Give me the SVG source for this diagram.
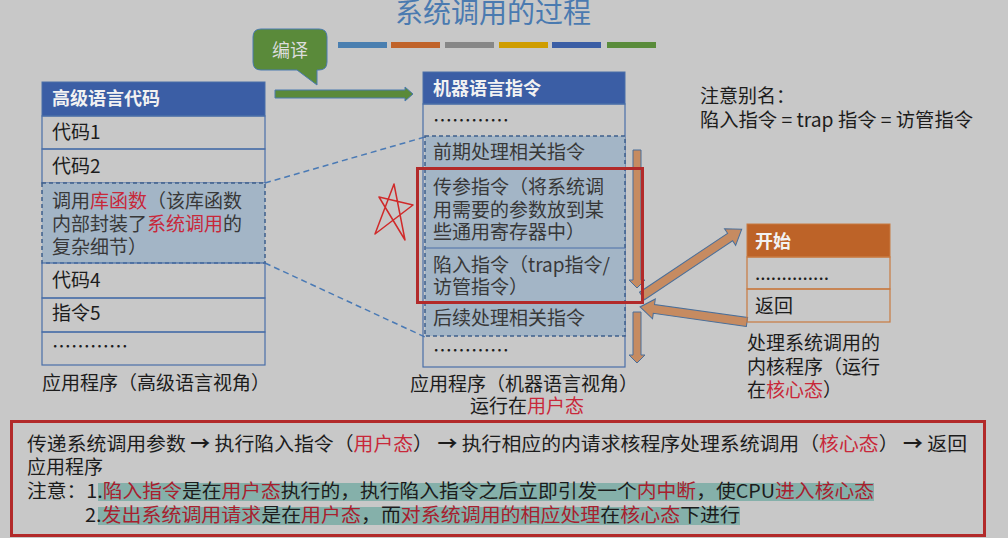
<svg xmlns="http://www.w3.org/2000/svg" width="1008" height="538" viewBox="0 0 1008 538">
<style>
text{font-family:"Noto Sans CJK SC","Noto Sans",sans-serif;fill:#1c1c1c;font-size:19px}
.hd{fill:#f2f2f2;font-weight:bold;font-size:18px}
.r{fill:#c8283a}
.rd{fill:#a8202e}
.g{fill:#383838}
.cell{fill:none;stroke:#4a6fa8;stroke-width:1.2}
.hl{fill:#a3b5c6;stroke:#3e5f8c;stroke-width:1.5;stroke-dasharray:4 3}
.oa{fill:#c68b61;stroke:#4a6f9a;stroke-width:1}
.dash{stroke:#4a7ab5;stroke-width:1.5;stroke-dasharray:6 4;fill:none}
</style>
<rect x="0" y="0" width="1008" height="538" fill="#c8c8c8"/>

<g id="title">
<text x="493" y="23" text-anchor="middle" style="font-size:28px;fill:#4a7ab0">系统调用的过程</text>
<rect x="338" y="42" width="49" height="6" fill="#4a7fb0"/>
<rect x="391" y="42" width="49" height="6" fill="#c0632a"/>
<rect x="445" y="42" width="49" height="6" fill="#878787"/>
<rect x="499" y="42" width="49" height="6" fill="#cf9d00"/>
<rect x="552" y="42" width="49" height="6" fill="#3b5ea5"/>
<rect x="607" y="42" width="49" height="6" fill="#5a8c3b"/>
</g>

<g id="compile">
<path d="M261,29 H319 Q327,29 327,37 V62 Q327,70 319,70 H317 L317,85 L297,70 H261 Q253,70 253,62 V37 Q253,29 261,29 Z" fill="#5a8a3a" stroke="#4a7ab0" stroke-width="1"/>
<text x="290" y="57" text-anchor="middle" style="fill:#dcdcdc;font-size:18px">编译</text>
<path d="M275,90 H405 V87 L413,94 L405,101 V98 H275 Z" fill="#5a8a3a" stroke="#4a7ab0" stroke-width="1"/>
</g>

<g id="connectors">
<line class="dash" x1="265" y1="183" x2="425" y2="137"/>
<line class="dash" x1="265" y1="263" x2="425" y2="337"/>
<path class="oa" d="M633,150 H641 V280 H645 L637,288 L629,280 H633 Z"/>
<path class="oa" d="M633,312 H641 V355 H645 L637,363 L629,355 H633 Z"/>
<g transform="translate(642,296) rotate(-33.8)">
<path class="oa" d="M0,-4.5 H106 V-10 L120,0 L106,10 V4.5 H0 Z"/>
</g>
<g transform="translate(747,322) rotate(-172)">
<path class="oa" d="M0,-4.5 H94 V-10 L108,0 L94,10 V4.5 H0 Z"/>
</g>
</g>

<g id="hll-table">
<rect x="42" y="82" width="223" height="34" fill="#3b5ea5" stroke="#4a6fa8"/>
<text class="hd" x="52" y="105">高级语言代码</text>
<rect class="cell" x="42" y="116" width="223" height="33"/>
<text x="52" y="139">代码1</text>
<rect class="cell" x="42" y="149" width="223" height="34"/>
<text x="52" y="173">代码2</text>
<rect class="hl" x="42" y="183" width="223" height="80"/>
<text class="g" x="52" y="208">调用<tspan class="r">库函数</tspan>（该库函数</text>
<text class="g" x="52" y="231">内部封装了<tspan class="r">系统调用</tspan>的</text>
<text class="g" x="52" y="254">复杂细节）</text>
<rect class="cell" x="42" y="263" width="223" height="35"/>
<text x="52" y="287">代码4</text>
<rect class="cell" x="42" y="298" width="223" height="34"/>
<text x="52" y="320">指令5</text>
<rect class="cell" x="42" y="332" width="223" height="33"/>
<text x="52" y="354">…………</text>
<text x="42" y="390" textLength="228" lengthAdjust="spacingAndGlyphs">应用程序（高级语言视角）</text>
</g>

<g id="machine-table">
<rect x="423" y="72" width="202" height="32" fill="#3b5ea5" stroke="#4a6fa8"/>
<text class="hd" x="433" y="95">机器语言指令</text>
<rect class="cell" x="423" y="104" width="202" height="263"/>
<text x="433" y="128">…………</text>
<rect class="hl" x="425" y="136" width="200" height="200"/>
<line x1="425" y1="168" x2="625" y2="168" stroke="#4a6fa8" stroke-width="1"/>
<line x1="425" y1="248" x2="625" y2="248" stroke="#4a6fa8" stroke-width="1"/>
<line x1="425" y1="303" x2="625" y2="303" stroke="#4a6fa8" stroke-width="1"/>
<text class="g" x="433" y="159">前期处理相关指令</text>
<text class="g" x="433" y="194">传参指令（将系统调</text>
<text class="g" x="433" y="217">用需要的参数放到某</text>
<text class="g" x="433" y="239">些通用寄存器中）</text>
<text class="g" x="433" y="272">陷入指令（trap指令/</text>
<text class="g" x="433" y="294">访管指令）</text>
<text class="g" x="433" y="325">后续处理相关指令</text>
<text x="433" y="358">…………</text>
<rect x="417.5" y="168.5" width="225" height="134" fill="none" stroke="#b22a2a" stroke-width="3"/>
<text x="524" y="391" text-anchor="middle">应用程序（机器语言视角）</text>
<text x="527" y="413" text-anchor="middle">运行在<tspan class="r">用户态</tspan></text>
</g>

<g id="star">
<path d="M375,234 L394,184 L405,240 L379,197 L413,205 Z" fill="none" stroke="#d02a2a" stroke-width="1.5" stroke-linejoin="round"/>
</g>

<g id="alias-note">
<text x="700" y="103">注意别名：</text>
<text x="700" y="127" textLength="273" lengthAdjust="spacingAndGlyphs">陷入指令 = trap 指令 = 访管指令</text>
</g>

<g id="kernel-box">
<rect x="747" y="224" width="143" height="33" fill="#bd6328" stroke="#c87a40"/>
<text class="hd" x="755" y="248">开始</text>
<rect x="747" y="257" width="143" height="32" fill="none" stroke="#c87a40" stroke-width="1.2"/>
<text x="755" y="280">..............</text>
<rect x="747" y="289" width="143" height="33" fill="none" stroke="#c87a40" stroke-width="1.2"/>
<text x="755" y="313">返回</text>
<text x="747" y="350">处理系统调用的</text>
<text x="747" y="374">内核程序（运行</text>
<text x="747" y="397">在<tspan class="r">核心态</tspan>）</text>
</g>

<g id="summary">
<rect x="11.5" y="421.5" width="973" height="114" fill="none" stroke="#b22a2a" stroke-width="3"/>
<rect x="98" y="483" width="776" height="18" fill="#85b0aa"/>
<rect x="98" y="507" width="642" height="18" fill="#85b0aa"/>
<text x="27" y="451" textLength="940" lengthAdjust="spacingAndGlyphs">传递系统调用参数 <tspan font-weight="bold">→</tspan> 执行陷入指令（<tspan class="r">用户态</tspan>） <tspan font-weight="bold">→</tspan> 执行相应的内请求核程序处理系统调用（<tspan class="r">核心态</tspan>） <tspan font-weight="bold">→</tspan> 返回</text>
<text x="27" y="474">应用程序</text>
<text x="27" y="498" textLength="847" lengthAdjust="spacingAndGlyphs">注意：1.<tspan class="rd">陷入指令</tspan>是在<tspan class="rd">用户态</tspan>执行的，执行陷入指令之后立即引发一个<tspan class="rd">内中断</tspan>，使CPU<tspan class="rd">进入核心态</tspan></text>
<text x="85" y="522" textLength="655" lengthAdjust="spacingAndGlyphs">2.<tspan class="rd">发出系统调用请求</tspan>是在<tspan class="rd">用户态</tspan>，而<tspan class="rd">对系统调用的相应处理</tspan>在<tspan class="rd">核心态</tspan>下进行</text>
</g>
</svg>
